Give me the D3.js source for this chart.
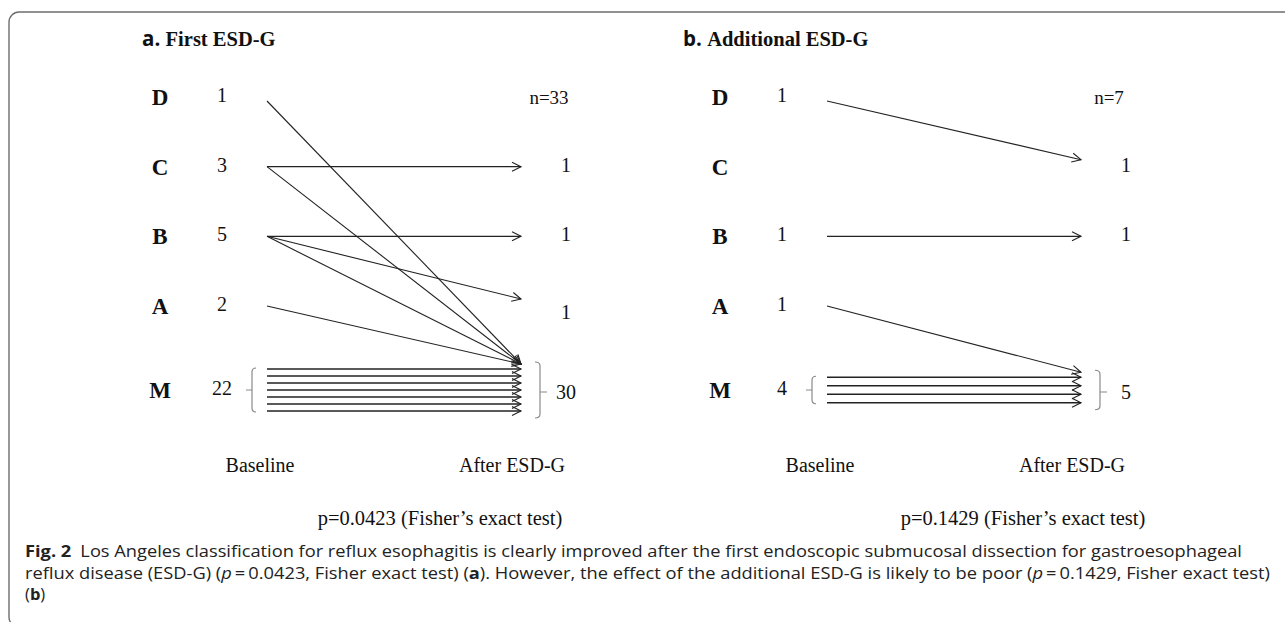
<!DOCTYPE html>
<html>
<head>
<meta charset="utf-8">
<script src="https://cdn.jsdelivr.net/npm/d3@7"></script>
<style>
  body { margin: 0; background: #fff; }
  svg { display: block; }
</style>
</head>
<body>
<svg id="chart" width="1285" height="622"></svg>
<script>
// LA grades, top to bottom
const grades = ["D", "C", "B", "A", "M"];
const panelLetters = ["a.", "b."];
const panelNames = ["First ESD-G", "Additional ESD-G"];
const totals = [33, 7];
const pValues = ["0.0423", "0.1429"];

// patient counts per grade (null = no label)
const baselineA = [1, 3, 5, 2, 22];
const afterA = [null, 1, 1, 1, 30];
const baselineB = [1, null, 1, 1, 4];
const afterB = [null, 1, 1, null, 5];

// arrows drawn from baseline grade to grade after ESD-G
const flowsA = [["D", "M"], ["C", "C"], ["C", "M"], ["B", "B"], ["B", "A"], ["B", "M"], ["A", "M"]];
const flowsB = [["D", "C"], ["B", "B"], ["A", "M"]];
// parallel M -> M lines in the bundle
const stayLinesA = 7;
const stayLinesB = 4;

const colLabels = ["Baseline", "After ESD-G"];

const captionLine1 = "Los Angeles classification for reflux esophagitis is clearly improved after the first endoscopic submucosal dissection for gastroesophageal";

const svg = d3.select("#chart");
const serif = "'Liberation Serif', 'Times New Roman', serif";
const sans = "'Open Sans', 'Noto Sans', sans-serif";

// frame (only top and left edges fall inside the picture)
svg.append("rect")
  .attr("x", 9).attr("y", 12)
  .attr("width", 1320).attr("height", 615)
  .attr("rx", 10)
  .attr("fill", "none")
  .attr("stroke", "#6e6e6e")
  .attr("stroke-width", 1.4);

// open arrow head
svg.append("defs").append("marker")
  .attr("id", "arrow")
  .attr("viewBox", "-10 -6 12 12")
  .attr("markerUnits", "userSpaceOnUse")
  .attr("markerWidth", 12).attr("markerHeight", 12)
  .attr("refX", 0).attr("refY", 0)
  .attr("orient", "auto")
  .append("path")
  .attr("d", "M-9,-4.5L0,0L-9,4.5")
  .attr("fill", "none")
  .attr("stroke", "#222")
  .attr("stroke-width", 1.1);

// D..A are evenly spaced, M sits lower with its bracketed bundle
const yRow = d3.scalePoint().domain(grades.slice(0, 4)).range([97, 306]);
const mGap = 84;
const y = g => g === "M" ? yRow("A") + mGap : yRow(g);
const panelX = d3.scaleOrdinal().domain([0, 1]).range([0, 560]);

// x columns inside a panel
const gradeX = 160, baseX = 222, lineX0 = 267, lineX1 = 521, afterX = 566;

function drawPanel(i, baseline, after, flows, stayLines, step) {
  const g = svg.append("g").attr("transform", `translate(${panelX(i)},0)`);

  // title
  const t = svg.append("text")
    .attr("x", i === 0 ? 142 : 683).attr("y", 46)
    .attr("font-size", 20.5).attr("font-weight", "bold").attr("fill", "#111");
  t.append("tspan").attr("font-family", sans).text(panelLetters[i] + " ");
  t.append("tspan").attr("font-family", serif).text(panelNames[i]);

  // grade letters
  g.selectAll(".grade").data(grades).join("text")
    .attr("x", gradeX).attr("y", d => y(d))
    .attr("dy", "0.35em")
    .attr("text-anchor", "middle")
    .attr("font-family", serif).attr("font-weight", "bold")
    .attr("font-size", 23).attr("fill", "#111")
    .text(d => d);

  // baseline counts
  g.selectAll(".base").data(grades.map((d, k) => ({ g: d, v: baseline[k] })).filter(d => d.v != null))
    .join("text")
    .attr("x", baseX).attr("y", d => y(d.g) - 2)
    .attr("dy", "0.35em")
    .attr("text-anchor", "middle")
    .attr("font-family", serif).attr("font-size", 20).attr("fill", "#111")
    .text(d => d.v);

  // after counts
  g.selectAll(".after").data(grades.map((d, k) => ({ g: d, v: after[k] })).filter(d => d.v != null))
    .join("text")
    .attr("x", afterX).attr("y", d => y(d.g) + (d.g === "A" ? 6 : d.g === "M" ? 2 : -2))
    .attr("dy", "0.35em")
    .attr("text-anchor", "middle")
    .attr("font-family", serif).attr("font-size", 20).attr("fill", "#111")
    .text(d => d.v);

  // n=
  g.append("text")
    .attr("x", afterX - 17).attr("y", y("D"))
    .attr("dy", "0.35em")
    .attr("text-anchor", "middle")
    .attr("font-family", serif).attr("font-size", 19).attr("fill", "#111")
    .text("n=" + totals[i]);

  // M bundle
  const bundle = d3.range(stayLines);
  const yb = d3.scalePoint().domain(bundle)
    .range([y("M") - (stayLines - 1) * step / 2, y("M") + (stayLines - 1) * step / 2]);
  const top = yb(0), bottom = yb(stayLines - 1);

  g.selectAll(".stay").data(bundle).join("line")
    .attr("x1", lineX0).attr("x2", lineX1)
    .attr("y1", d => yb(d)).attr("y2", d => yb(d))
    .attr("stroke", "#222").attr("stroke-width", 1.3)
    .attr("marker-end", "url(#arrow)");

  // change arrows
  g.selectAll(".flow").data(flows).join("line")
    .attr("x1", lineX0)
    .attr("y1", d => y(d[0]) + (d[0] === "D" ? 4 : 0))
    .attr("x2", lineX1)
    .attr("y2", d => d[1] === d[0] ? y(d[1]) : d[1] === "M" ? top - 5 : y(d[1]) - 7)
    .attr("stroke", "#222").attr("stroke-width", 1.1)
    .attr("marker-end", "url(#arrow)");

  // brackets
  const bl = lineX0 - 15;
  g.append("path")
    .attr("d", `M${bl + 4},${top - 1}Q${bl},${top - 1} ${bl},${top + 3}V${bottom - 3}Q${bl},${bottom + 1} ${bl + 4},${bottom + 1}M${bl},${y("M")}H${bl - 6}`)
    .attr("fill", "none").attr("stroke", "#8a8a8a").attr("stroke-width", 1.2);
  const br = lineX1 + 19;
  g.append("path")
    .attr("d", `M${br - 5},${top - 7}Q${br},${top - 7} ${br},${top - 3}V${bottom + 3}Q${br},${bottom + 7} ${br - 5},${bottom + 7}M${br},${y("M") + 2}H${br + 7}`)
    .attr("fill", "none").attr("stroke", "#8a8a8a").attr("stroke-width", 1.2);

  // column labels
  g.selectAll(".col").data(colLabels).join("text")
    .attr("x", (d, k) => k === 0 ? 260 : 512)
    .attr("y", 472)
    .attr("text-anchor", "middle")
    .attr("font-family", serif).attr("font-size", 20).attr("fill", "#111")
    .text(d => d);

  // p value
  g.append("text")
    .attr("x", i === 0 ? 440 : 463).attr("y", 525)
    .attr("text-anchor", "middle")
    .attr("font-family", serif).attr("font-size", 20.5).attr("fill", "#111")
    .text(`p=${pValues[i]} (Fisher\u2019s exact test)`);
}

drawPanel(0, baselineA, afterA, flowsA, stayLinesA, 7);
drawPanel(1, baselineB, afterB, flowsB, stayLinesB, 8.5);

// caption
const cap = svg.append("g").attr("font-family", sans).attr("font-size", 16.5).attr("fill", "#222");
const l1 = cap.append("text").attr("x", 25).attr("y", 557)
  .attr("textLength", 1217).attr("lengthAdjust", "spacingAndGlyphs");
l1.append("tspan").attr("font-weight", "bold").text("Fig. 2");
l1.append("tspan").text("\u2002" + captionLine1);

const l2 = cap.append("text").attr("x", 25).attr("y", 579)
  .attr("textLength", 1245).attr("lengthAdjust", "spacingAndGlyphs");
l2.append("tspan").text("reflux disease (ESD-G) (");
l2.append("tspan").attr("font-style", "italic").text("p");
l2.append("tspan").text(`\u2009=\u20090.0423, Fisher exact test) (`);
l2.append("tspan").attr("font-weight", "bold").text("a");
l2.append("tspan").text("). However, the effect of the additional ESD-G is likely to be poor (");
l2.append("tspan").attr("font-style", "italic").text("p");
l2.append("tspan").text(`\u2009=\u20090.1429, Fisher exact test)`);

const l3 = cap.append("text").attr("x", 25).attr("y", 600);
l3.append("tspan").text("(");
l3.append("tspan").attr("font-weight", "bold").text("b");
l3.append("tspan").text(")");
</script>
</body>
</html>
